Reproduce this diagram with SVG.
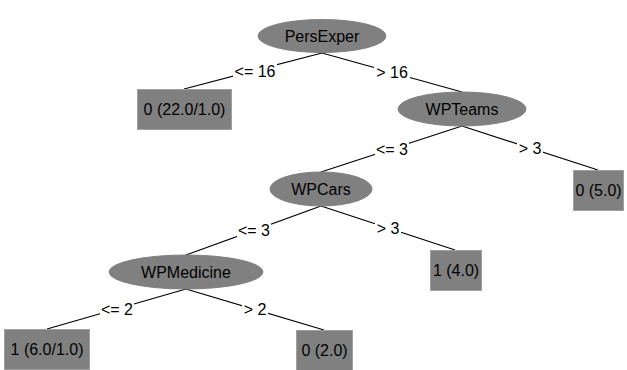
<svg xmlns="http://www.w3.org/2000/svg" width="627" height="370" viewBox="0 0 627 370">
<style>
.n{fill:#808080;stroke:#808080;stroke-width:1}
.b{fill:#808080;stroke:#a0a0a0;stroke-width:1}
.t{font-family:"Liberation Sans",Arial,sans-serif;font-size:16px;fill:#000;text-anchor:middle;dominant-baseline:central}
.e line{stroke:#000;stroke-width:1.2}
.lb{fill:#fff}
</style>
<rect width="627" height="370" fill="#fff"/>
<g id="connectors" class="e">
<line x1="322" y1="53" x2="184" y2="89"/>
<line x1="322" y1="53" x2="462" y2="92"/>
<line x1="462" y1="126" x2="321" y2="172"/>
<line x1="462" y1="126" x2="598" y2="170"/>
<line x1="321" y1="206" x2="186" y2="255"/>
<line x1="321" y1="206" x2="455" y2="250"/>
<line x1="186" y1="289" x2="47" y2="329"/>
<line x1="186" y1="289" x2="324" y2="330"/>
<rect class="lb" x="233" y="62" width="44" height="18"/>
<text class="t" x="255" y="71">&lt;= 16</text>
<rect class="lb" x="374" y="63" width="36" height="18"/>
<text class="t" x="392" y="72">&gt; 16</text>
<rect class="lb" x="375" y="140" width="34" height="18"/>
<text class="t" x="392" y="149">&lt;= 3</text>
<rect class="lb" x="517" y="139" width="26" height="18"/>
<text class="t" x="530" y="148">&gt; 3</text>
<rect class="lb" x="237" y="221" width="34" height="18"/>
<text class="t" x="254" y="230">&lt;= 3</text>
<rect class="lb" x="375" y="219" width="26" height="18"/>
<text class="t" x="388" y="228">&gt; 3</text>
<rect class="lb" x="100" y="300" width="34" height="18"/>
<text class="t" x="117" y="309">&lt;= 2</text>
<rect class="lb" x="242" y="300" width="26" height="18"/>
<text class="t" x="255" y="309">&gt; 2</text>
</g>
<g id="PersExper"><ellipse class="n" cx="322" cy="36" rx="64" ry="16.5"/><text class="t" x="322" y="36">PersExper</text></g>
<g id="leaf1"><rect class="b" x="137.5" y="89.5" width="94" height="40"/><text class="t" x="184.5" y="109.5">0 (22.0/1.0)</text></g>
<g id="WPTeams"><ellipse class="n" cx="462" cy="109" rx="64" ry="17"/><text class="t" x="462" y="109">WPTeams</text></g>
<g id="leaf2"><rect class="b" x="573.5" y="170.5" width="50" height="40"/><text class="t" x="598.5" y="190.5">0 (5.0)</text></g>
<g id="WPCars"><ellipse class="n" cx="321" cy="189" rx="51" ry="17"/><text class="t" x="321" y="189">WPCars</text></g>
<g id="leaf3"><rect class="b" x="430.5" y="250.5" width="51" height="40"/><text class="t" x="456" y="270.5">1 (4.0)</text></g>
<g id="WPMedicine"><ellipse class="n" cx="186" cy="272" rx="77" ry="17"/><text class="t" x="186" y="272">WPMedicine</text></g>
<g id="leaf4"><rect class="b" x="4.5" y="329.5" width="85" height="40"/><text class="t" x="47" y="349.5">1 (6.0/1.0)</text></g>
<g id="leaf5"><rect class="b" x="296.5" y="330.5" width="56" height="40"/><text class="t" x="324.5" y="350.5">0 (2.0)</text></g>
</svg>
